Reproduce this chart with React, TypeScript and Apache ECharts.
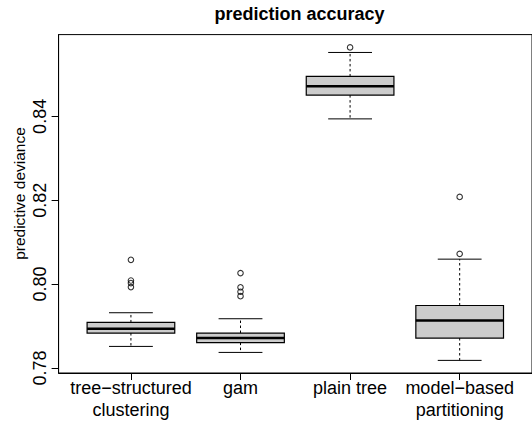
import React, { useEffect, useRef } from "react";
import * as echarts from "echarts";

const categories = ["tree−structured\nclustering", "gam", "plain tree", "model−based\npartitioning"];
const lowerWhisker = [0.78514, 0.78371, 0.8394, 0.78181];
const q1 = [0.78833, 0.78605, 0.84507, 0.78714];
const median = [0.78936, 0.78714, 0.84717, 0.79133];
const q3 = [0.79086, 0.78833, 0.84952, 0.7949];
const upperWhisker = [0.79317, 0.79174, 0.85524, 0.80595];
const outliers: [number, number][] = [
  [1, 0.80579], [1, 0.80086], [1, 0.80024], [1, 0.79929],
  [2, 0.80262], [2, 0.79924], [2, 0.79818], [2, 0.79712],
  [3, 0.85645],
  [4, 0.80721], [4, 0.82079],
];
const yTicks = [0.78, 0.8, 0.82, 0.84];
const xTicks = [1, 2, 3, 4];
const titleText = "prediction accuracy";
const yAxisTitle = "predictive deviance";

const FONT = "'Liberation Sans', Arial, Helvetica, sans-serif";

export default function App() {
  const ref = useRef<HTMLDivElement>(null);
  useEffect(() => {
    if (!ref.current) return;
    const chart = echarts.init(ref.current, null, { renderer: "svg" });
    const boxData = categories.map((_, i) => [i + 1, lowerWhisker[i], q1[i], median[i], q3[i], upperWhisker[i]]);
    chart.setOption({
      animation: false,
      backgroundColor: "#fff",
      textStyle: { fontFamily: FONT },
      graphic: [
        {
          type: "text",
          x: 299.5,
          y: 13.8,
          style: {
            text: titleText,
            fontFamily: FONT,
            fontSize: 18,
            fontWeight: "bold",
            fill: "#000",
            textAlign: "center",
            textVerticalAlign: "middle",
          },
        },
        {
          type: "text",
          x: 19.5,
          y: 193.5,
          rotation: Math.PI / 2,
          style: {
            text: yAxisTitle,
            fontFamily: FONT,
            fontSize: 15.5,
            fill: "#000",
            textAlign: "center",
            textVerticalAlign: "middle",
          },
        },
      ],
      grid: {
        left: 58.6,
        top: 34.6,
        right: -8,
        bottom: 47.5,
        show: true,
        borderColor: "#000",
        borderWidth: 1,
        backgroundColor: "transparent",
      },
      xAxis: {
        type: "value",
        min: 0.34,
        max: 4.66,
        axisLine: { show: true, lineStyle: { color: "#000", width: 1 } },
        axisTick: { show: true, customValues: xTicks, length: 7, inside: false, lineStyle: { color: "#000" } },
        axisLabel: {
          customValues: xTicks,
          formatter: (v: number) => categories[Math.round(v) - 1] ?? "",
          fontSize: 18,
          lineHeight: 22,
          margin: 4,
          color: "#000",
          fontFamily: FONT,
        },
        splitLine: { show: false },
      },
      yAxis: {
        type: "value",
        min: 0.7788,
        max: 0.8595,
        axisLine: { show: true, lineStyle: { color: "#000", width: 1 } },
        axisTick: { show: true, customValues: yTicks, length: 7, inside: false, lineStyle: { color: "#000" } },
        axisLabel: {
          customValues: yTicks,
          formatter: (v: number) => v.toFixed(2),
          rotate: 90,
          fontSize: 18,
          margin: 10,
          color: "#000",
          fontFamily: FONT,
        },
        splitLine: { show: false },
      },
      series: [
        {
          type: "custom",
          data: boxData,
          encode: { x: 0, y: [1, 2, 3, 4, 5] },
          renderItem: (params: any, api: any) => {
            const x = api.value(0);
            const pLow = api.coord([x, api.value(1)]);
            const pQ1 = api.coord([x, api.value(2)]);
            const pMed = api.coord([x, api.value(3)]);
            const pQ3 = api.coord([x, api.value(4)]);
            const pUp = api.coord([x, api.value(5)]);
            const bw = api.size([0.8, 0])[0];
            const cx = pMed[0];
            const half = bw / 2;
            const sh = bw / 4;
            const lineStyle = { stroke: "#000", lineWidth: 1 };
            const dashStyle = { stroke: "#000", lineWidth: 1, lineDash: [2.5, 2.5] };
            return {
              type: "group",
              children: [
                { type: "line", shape: { x1: cx, y1: pQ3[1], x2: cx, y2: pUp[1] }, style: dashStyle },
                { type: "line", shape: { x1: cx, y1: pQ1[1], x2: cx, y2: pLow[1] }, style: dashStyle },
                { type: "line", shape: { x1: cx - sh, y1: pUp[1], x2: cx + sh, y2: pUp[1] }, style: lineStyle },
                { type: "line", shape: { x1: cx - sh, y1: pLow[1], x2: cx + sh, y2: pLow[1] }, style: lineStyle },
                {
                  type: "rect",
                  shape: { x: cx - half, y: pQ3[1], width: bw, height: pQ1[1] - pQ3[1] },
                  style: { fill: "#cccccc", stroke: "#000", lineWidth: 1.2 },
                },
                {
                  type: "line",
                  shape: { x1: cx - half, y1: pMed[1], x2: cx + half, y2: pMed[1] },
                  style: { stroke: "#000", lineWidth: 2.6 },
                },
              ],
            };
          },
        },
        {
          type: "scatter",
          data: outliers,
          symbol: "circle",
          symbolSize: 5.5,
          itemStyle: { color: "rgba(0,0,0,0)", borderColor: "#000", borderWidth: 1.1 },
        },
      ],
    });
    return () => chart.dispose();
  }, []);
  return <div ref={ref} style={{ position: "absolute", left: 0, top: 0, width: 532, height: 421 }} />;
}
